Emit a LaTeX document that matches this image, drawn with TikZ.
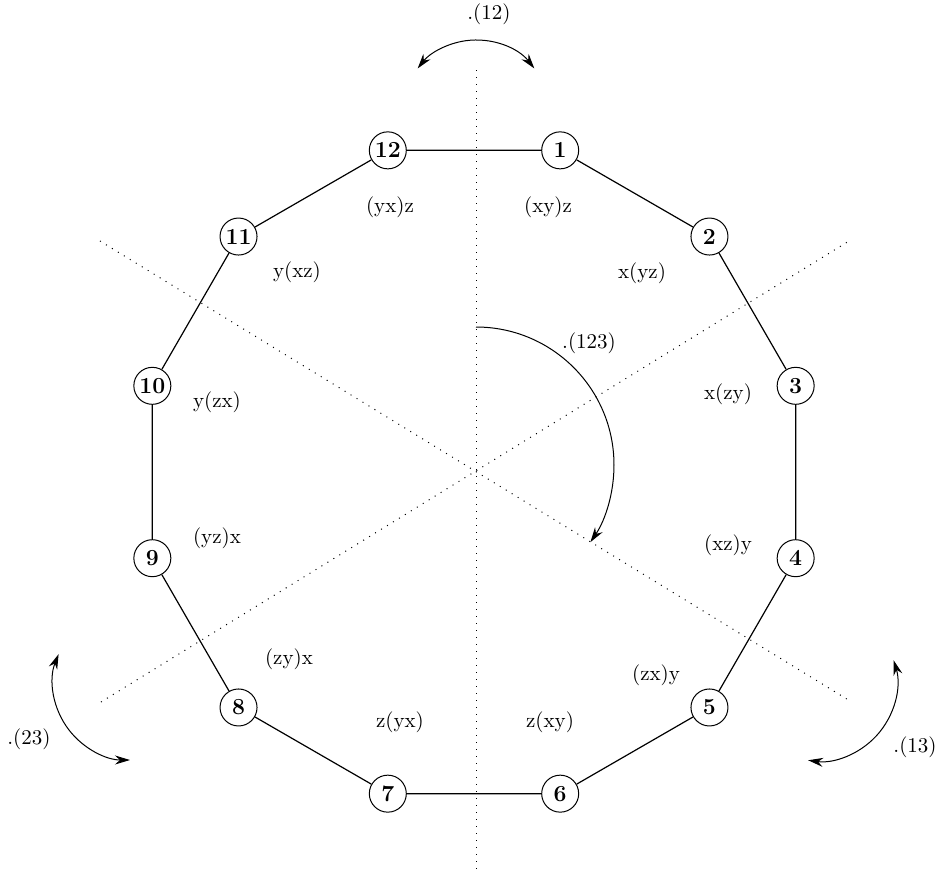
\documentclass[tikz,border=0pt]{standalone}
\usepackage{tikz}
\usetikzlibrary{arrows.meta}
\tikzset{>={Stealth[length=7.5pt,width=4.5pt,inset=2.5pt]},x=0.5pt,y=0.5pt}
\tikzset{
  vertex/.style={circle,draw,line width=0.5pt,inner sep=0pt,minimum size=18.5pt,
    font=\fontsize{11.5}{13}\selectfont\bfseries},
  word/.style={inner sep=1pt,font=\fontsize{10.5}{12}\selectfont},
  axis/.style={line width=0.5pt,dash pattern=on 0.5pt off 3pt},
  rot/.style={line width=0.5pt}
}

\begin{document}
\begin{tikzpicture}
\useasboundingbox (-474,-403) rectangle (463,472);
\coordinate (c) at (0,0);
% symmetry axes
\draw[axis] (2,402) -- (2,-398);
\draw[axis] (-373,-230) -- (375,231);
\draw[axis] (-374,231) -- (376,-229);
% the twelve orderings
\foreach \i in {1,...,12}
  \node[vertex] (v\i) at ({75-30*(\i-1)}:333) {\i};
\draw[line width=0.6pt] (v1) -- (v2) -- (v3) -- (v4) -- (v5) -- (v6) -- (v7)
  -- (v8) -- (v9) -- (v10) -- (v11) -- (v12) -- (v1);
% words
\node[word] (w1)  at (74,265)    {(xy)z};
\node[word] (w2)  at (168,199)   {x(yz)};
\node[word] (w3)  at (254,78)    {x(zy)};
\node[word] (w4)  at (254,-73)   {(xz)y};
\node[word] (w5)  at (182,-203)  {(zx)y};
\node[word] (w6)  at (76,-250)   {z(xy)};
\node[word] (w7)  at (-74,-250)  {z(yx)};
\node[word] (w8)  at (-185,-187) {(zy)x};
\node[word] (w9)  at (-257,-66)  {(yz)x};
\node[word] (w10) at (-257,70)   {y(zx)};
\node[word] (w11) at (-177,200)  {y(xz)};
\node[word] (w12) at (-84,265)   {(yx)z};
% rotations and reflections
\coordinate (r12) at (2,358);
\coordinate (r123) at (2,7);
\coordinate (r23) at (-344,-211);
\coordinate (r13) at (345,-211);
\draw[rot,<->] ([shift={(38:74)}]r12) arc[start angle=38,end angle=142,radius=74];
\draw[rot,->] ([shift={(90:138)}]r123) arc[start angle=90,end angle=-34,radius=138];
\draw[rot,<->] ([shift={(158:77)}]r23) arc[start angle=158,end angle=270,radius=77];
\draw[rot,<->] ([shift={(17:78)}]r13) arc[start angle=17,end angle=-98,radius=78];
\node[word] (l12)  at (15,458)   {.(12)};
\node[word] (l123) at (115,129)  {.(123)};
\node[word] (l23)  at (-445,-267) {.(23)};
\node[word] (l13)  at (441,-275) {.(13)};
\end{tikzpicture}
\end{document}
